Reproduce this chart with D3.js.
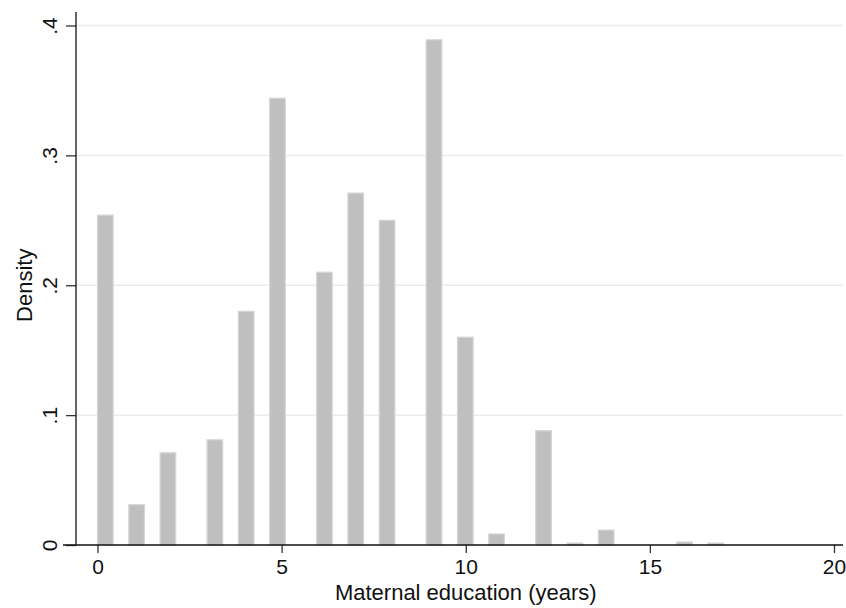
<!doctype html>
<html>
  <head>
    <meta charset="utf-8" />
    <title>Maternal education histogram</title>
    <style>
      body { margin: 0; background: #fff; }
      svg text { font-family: "Liberation Sans", Arial, sans-serif; fill: #111; }
      .grid line { stroke: #ececec; stroke-width: 1.5px; }
      .bar { fill: #bfbfbf; stroke: #d6d6d6; stroke-width: 1.2px; }
      .axis-line { stroke: #111; stroke-width: 1.3px; }
      .tick line { stroke: #333; stroke-width: 1.3px; }
    </style>
  </head>
  <body>
    <div id="chart"></div>
    <script src="https://cdn.jsdelivr.net/npm/d3@7"></script>
    <script>
      // years of schooling and their density
      var years   = [0, 1, 2, 3, 4, 5, 6, 7, 8, 9, 10, 11, 12, 13, 14, 16, 17];
      var density = [0.254, 0.031, 0.071, 0.081, 0.180, 0.344, 0.210, 0.271, 0.250,
                     0.389, 0.160, 0.0085, 0.088, 0.0015, 0.0115, 0.0023, 0.0015];
      var xTicks = [0, 5, 10, 15, 20];
      var yTicks = [0, 0.1, 0.2, 0.3, 0.4];
      var yTickLabels = ["0", ".1", ".2", ".3", ".4"];

      // histogram used 40 bins across 0..17
      var nBins = 40, dataMin = 0, dataMax = 17;
      var binWidth = (dataMax - dataMin) / nBins;

      var width = 846, height = 608;
      var plot = {left: 63, right: 843, top: 12, bottom: 545, yAxisX: 76};

      var x = d3.scaleLinear().domain([0, 20]).range([97.5, 834]);
      var y = d3.scaleLinear().domain([0, 0.4]).range([plot.bottom, 25.5]);

      var svg = d3.select("#chart").append("svg")
                  .attr("width", width)
                  .attr("height", height);

      // gridlines
      svg.append("g")
         .attr("class", "grid")
         .selectAll("line")
         .data(yTicks.slice(1))
         .enter().append("line")
         .attr("x1", plot.yAxisX)
         .attr("x2", plot.right)
         .attr("y1", function(d) { return y(d); })
         .attr("y2", function(d) { return y(d); });

      var bars = years.map(function(v, i) {
        var idx = Math.min(Math.floor((v - dataMin) / binWidth), nBins - 1);
        var x0 = dataMin + idx * binWidth;
        return {x0: x0, x1: x0 + binWidth, d: density[i]};
      });

      svg.append("g")
         .selectAll("rect")
         .data(bars)
         .enter().append("rect")
         .attr("class", "bar")
         .attr("x", function(d) { return x(d.x0); })
         .attr("width", function(d) { return x(d.x1) - x(d.x0); })
         .attr("y", function(d) { return y(d.d); })
         .attr("height", function(d) { return y(0) - y(d.d); });

      // x axis
      var xAxis = svg.append("g")
         .attr("transform", "translate(0," + plot.bottom + ")")
         .call(d3.axisBottom(x).tickValues(xTicks).tickSize(8).tickPadding(6)
                 .tickFormat(d3.format("d")));
      xAxis.select(".domain").remove();
      xAxis.selectAll("text").style("font-size", "21px").attr("dy", "0.71em");

      // y axis
      var yAxis = svg.append("g")
         .attr("transform", "translate(" + plot.yAxisX + ",0)")
         .call(d3.axisLeft(y).tickValues(yTicks).tickSize(10)
                 .tickFormat(function(d, i) { return yTickLabels[i]; }));
      yAxis.select(".domain").remove();
      yAxis.selectAll("text")
           .style("font-size", "21px")
           .attr("text-anchor", "middle")
           .attr("dy", null)
           .attr("x", null)
           .attr("transform", "translate(-19,0) rotate(-90)");

      svg.append("line")
         .attr("class", "axis-line")
         .attr("x1", plot.left).attr("x2", plot.right)
         .attr("y1", plot.bottom).attr("y2", plot.bottom);
      svg.append("line")
         .attr("class", "axis-line")
         .attr("x1", plot.yAxisX).attr("x2", plot.yAxisX)
         .attr("y1", plot.top).attr("y2", plot.bottom);

      // axis titles
      svg.append("text")
         .attr("x", (x(0) + x(20)) / 2)
         .attr("y", 600)
         .attr("text-anchor", "middle")
         .style("font-size", "22px")
         .text("Maternal education (years)");

      svg.append("text")
         .attr("transform", "translate(32," + y(0.2) + ") rotate(-90)")
         .attr("text-anchor", "middle")
         .style("font-size", "22px")
         .text("Density");
    </script>
  </body>
</html>
